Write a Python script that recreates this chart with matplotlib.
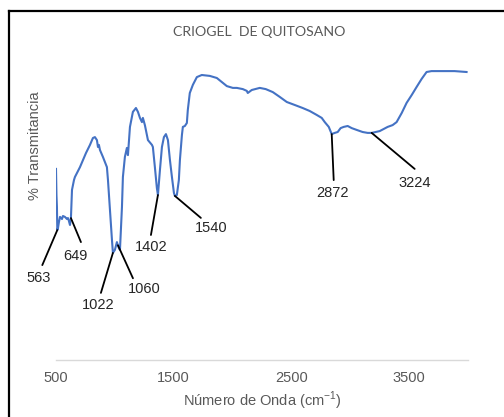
import numpy as np
import matplotlib
matplotlib.use("Agg")
import matplotlib.pyplot as plt
from matplotlib.lines import Line2D

# FTIR spectrum (wavenumber cm-1, % transmittance)
wavenumber = [500, 504, 508, 511, 517, 525, 534, 551, 559, 576, 593, 602, 610, 619, 627,
              636, 653, 661, 704, 755, 789, 814, 831, 848, 857, 865, 874, 899, 933, 942,
              959, 976, 984, 1001, 1018, 1035, 1044, 1061, 1069, 1086, 1103, 1112, 1129,
              1154, 1180, 1197, 1214, 1231, 1239, 1256, 1282, 1316, 1324, 1341, 1358, 1367,
              1384, 1401, 1418, 1435, 1452, 1469, 1486, 1503, 1511, 1528, 1545, 1554, 1571,
              1579, 1596, 1613, 1621, 1638, 1664, 1698, 1740, 1808, 1868, 1953, 2004, 2038,
              2089, 2123, 2131, 2165, 2233, 2284, 2344, 2403, 2463, 2531, 2598, 2658, 2717,
              2760, 2786, 2820, 2845, 2871, 2896, 2921, 2947, 2981, 3015, 3057, 3108, 3151,
              3185, 3219, 3253, 3287, 3321, 3363, 3397, 3440, 3482, 3525, 3567, 3610, 3652,
              3694, 3762, 3890, 3992]
transmittance = [63.7, 55.0, 51.0, 43.3, 44.0, 46.0, 47.7, 47.0, 48.0, 47.7, 47.0, 47.3, 46.3,
                 45.0, 47.3, 56.7, 60.0, 61.0, 64.3, 69.0, 71.7, 74.0, 74.3, 73.3, 71.0, 71.7,
                 70.0, 67.7, 64.3, 60.0, 50.0, 40.0, 35.7, 36.7, 39.3, 37.3, 36.7, 51.0, 61.0,
                 67.7, 70.7, 68.3, 77.7, 82.7, 84.0, 82.7, 80.7, 79.3, 80.7, 78.3, 73.3, 71.7,
                 71.0, 64.3, 57.3, 55.0, 63.3, 71.0, 74.3, 75.3, 73.3, 66.7, 61.0, 55.7, 54.7,
                 55.0, 60.0, 66.7, 75.0, 77.7, 78.0, 79.0, 83.3, 89.0, 91.7, 94.3, 95.0, 94.7,
                 94.0, 91.3, 90.7, 90.7, 90.3, 89.7, 89.0, 90.0, 90.7, 90.3, 89.3, 87.7, 86.0,
                 85.0, 84.0, 83.0, 81.7, 80.7, 79.3, 77.7, 75.3, 75.7, 76.0, 77.3, 77.7, 78.0,
                 77.3, 76.7, 76.0, 75.7, 75.7, 76.0, 76.3, 77.0, 77.7, 78.3, 79.3, 82.3, 85.7,
                 88.3, 91.0, 93.7, 96.0, 96.3, 96.3, 96.3, 96.0]

# labelled bands: text, where the callout touches the curve
peak_labels = ["563", "649", "1022", "1060", "1402", "1540", "2872", "3224"]
peak_anchor = [511, 627, 984, 1027, 1367, 1511, 2845, 3185]
# callout line end and label centre, offset in pixels from the anchor
line_end = [(-15, -35), (10, -24), (-12, -40), (15, -33), (-7, -40), (26, -22), (2, -46), (43, -36)]
label_pos = [(-19, -48), (5, -38), (-15, -52), (26, -44), (-7, -52), (36, -32), (1, -59), (43, -50)]

x_ticks = [500, 1500, 2500, 3500]

gray = "#595959"
W, H = 504, 417
fig = plt.figure(figsize=(W / 100, H / 100), dpi=100)
ax = fig.add_axes([56 / W, 1 - 360 / H, (467.5 - 56) / W, 300 / H])

ax.plot(wavenumber, transmittance, color="#4472C4", lw=1.5, solid_joinstyle="round")
ax.set_xlim(500, 4000)
ax.set_ylim(0, 100)

for lab, wn, le, lp in zip(peak_labels, peak_anchor, line_end, label_pos):
    t = np.interp(wn, wavenumber, transmittance)
    ax.annotate("", xy=(wn, t), xytext=le, textcoords="offset pixels",
                arrowprops=dict(arrowstyle="-", color="black", lw=1.3,
                                shrinkA=0, shrinkB=0))
    ax.annotate(lab, xy=(wn, t), xytext=lp, textcoords="offset pixels",
                ha="center", va="center", fontsize=10.5, color="#262626",
                family="Liberation Sans")

for s in ["top", "right", "left"]:
    ax.spines[s].set_visible(False)
ax.spines["bottom"].set_color("#D9D9D9")
ax.spines["bottom"].set_linewidth(1.0)
ax.set_yticks([])
ax.set_xticks(x_ticks)
ax.tick_params(axis="x", length=0, pad=8, labelsize=10.5, labelcolor=gray)
for t in ax.get_xticklabels():
    t.set_family("Liberation Sans")

fig.text(259 / W, 1 - 32 / H, "CRIOGEL  DE QUITOSANO", ha="center", va="center",
         fontsize=10.2, color=gray, family="Lato")
fig.text(262 / W, 1 - 401 / H, r"Número de Onda (cm$^{\mathregular{-1}}$)",
         ha="center", va="center", fontsize=10.5, color=gray, family="Liberation Sans")
fig.text(35 / W, 1 - 146 / H, "% Transmitancia", rotation=90, ha="center", va="center",
         fontsize=10.5, color=gray, family="Liberation Sans")

# frame of the screenshot
fig.add_artist(Line2D([9 / W, 9 / W], [0, 1 - 11 / H], color="black", lw=1.6,
                      transform=fig.transFigure, solid_capstyle="projecting"))
fig.add_artist(Line2D([9 / W, 1], [1 - 11 / H, 1 - 11 / H], color="black", lw=1.6,
                      transform=fig.transFigure, solid_capstyle="projecting"))

fig.savefig("out.png", dpi=100)
